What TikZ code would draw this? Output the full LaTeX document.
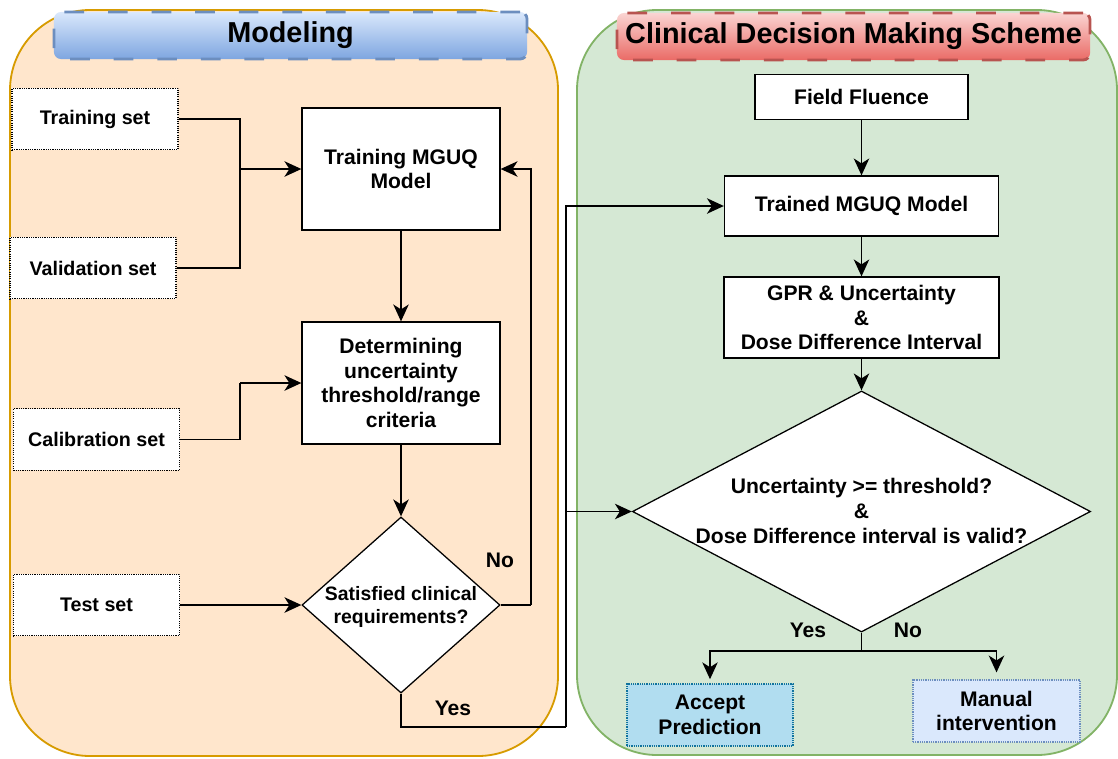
\documentclass[tikz,border=0pt]{standalone}
\usepackage{fontspec}
\setmainfont{Liberation Sans}
\usetikzlibrary{arrows.meta,shapes.geometric}
\definecolor{modelFill}{HTML}{FFE6CC}
\definecolor{modelLine}{HTML}{D79B00}
\definecolor{clinicFill}{HTML}{D5E8D4}
\definecolor{clinicLine}{HTML}{82B366}
\definecolor{blueTop}{HTML}{DAE8FC}
\definecolor{blueBot}{HTML}{7EA6E0}
\definecolor{blueLine}{HTML}{6C8EBF}
\definecolor{redTop}{HTML}{FAD4D2}
\definecolor{redBot}{HTML}{EA6B66}
\definecolor{redLine}{HTML}{B85450}
\definecolor{acceptFill}{HTML}{B1DDF0}
\definecolor{acceptLine}{HTML}{10739E}
\definecolor{manualFill}{HTML}{DAE8FC}

\begin{document}
\begin{tikzpicture}[x=0.025cm,y=-0.025cm,
        txt/.style={font=\bfseries\fontsize{15}{17.5}\selectfont,align=center},
        setbox/.style={draw,fill=white,line width=0.8pt,dash pattern=on 0.8pt off 0.8pt,
            minimum width=4.15cm,minimum height=1.53cm,
            font=\bfseries\fontsize{14}{17}\selectfont},
        procbox/.style={txt,draw,fill=white,line width=0.9pt},
        decision/.style={diamond,draw,fill=white,line width=0.9pt,inner sep=0pt},
        titlebox/.style={rounded corners=5pt,line width=2pt,dash pattern=on 14pt off 17pt,
            minimum width=11.825cm,minimum height=1.175cm,
            font=\bfseries\fontsize{20.5}{24}\selectfont},
        hv/.style={to path={-| (\tikztotarget)}},
        vh/.style={to path={|- (\tikztotarget)}}]
        \useasboundingbox (0,0) rectangle (1118,758);
        % panels
        \filldraw[fill=modelFill,draw=modelLine,line width=1.3pt,rounded corners=2cm]
            (10,10) rectangle (558,756);
        \filldraw[fill=clinicFill,draw=clinicLine,line width=1.3pt,rounded corners=2cm]
            (577,10) rectangle (1117,755);
        \node[titlebox,draw=blueLine,top color=blueTop,bottom color=blueBot]
            (modelTitle) at (290.5,35.5) {Modeling};
        \node[titlebox,draw=redLine,top color=redTop,bottom color=redBot]
            (clinicTitle) at (853.5,36.5) {Clinical Decision Making Scheme};
        % modeling side
        \begin{scope}[every node/.style={setbox}]
            \node (trainSet) at (95,119) {Training set};
            \node (valSet) at (93,268) {Validation set};
            \node (calSet) at (96.5,439.5) {Calibration set};
            \node (testSet) at (96.5,605) {Test set};
        \end{scope}
        \begin{scope}[every node/.style={procbox,minimum width=4.95cm,minimum height=3.05cm}]
            \node (trainModel) at (401,169) {Training MGUQ\\Model};
            \node (determ) at (401,383) {Determining\\uncertainty\\threshold/range\\criteria};
        \end{scope}
        \node[decision,minimum width=4.95cm,minimum height=4.4cm] (sat) at (401,605) {};
        \node[txt,font=\bfseries\fontsize{13.8}{17}\selectfont] (satText) at (401,607) {Satisfied clinical\\requirements?};
        % clinical side
        \node[procbox,minimum width=5.325cm,minimum height=1.125cm] (fluence) at (861.5,97) {Field Fluence};
        \node[procbox,minimum width=6.85cm,minimum height=1.5cm] (trained) at (861.5,206) {Trained MGUQ Model};
        \node[procbox,minimum width=6.875cm,minimum height=2.025cm] (gpr) at (861.5,317.5)
            {GPR \& Uncertainty\\\&\\Dose Difference Interval};
        \node[decision,minimum width=11.45cm,minimum height=6.025cm] (check) at (861.5,511.5) {};
        \node[txt] (checkText) at (861.5,511) {Uncertainty >= threshold?\\\&\\Dose Difference interval is valid?};
        \node[txt,draw=acceptLine,fill=acceptFill,line width=0.8pt,dash pattern=on 0.8pt off 0.8pt,
            minimum width=4.15cm,minimum height=1.55cm] (accept) at (710,715) {Accept\\Prediction};
        \node[txt,draw=blueLine,fill=manualFill,line width=0.8pt,dash pattern=on 0.8pt off 0.8pt,
            minimum width=4.175cm,minimum height=1.55cm] (manual) at (996.5,711) {Manual\\intervention};
        % branch labels
        \begin{scope}[every node/.style={txt}]
            \node (noLbl) at (500,560) {No};
            \node (yesLbl) at (453,708) {Yes};
            \node (yesLbl2) at (808,630) {Yes};
            \node (noLbl2) at (908,630) {No};
        \end{scope}
        \coordinate (merge) at (240,169);
        \coordinate (calTurn) at (240,383);
        \coordinate (noTurn) at (531,605);
        \coordinate (yesBend) at (566,727);
        \coordinate (yesSplit) at (566,511.5);
        \coordinate (split) at (861.5,651);
        \begin{scope}[every edge/.style={draw,line width=1pt,-{Stealth[length=12pt,width=11pt,inset=3.5pt]}}]
            \path
                (trainSet.east) edge [hv,-] (merge)
                (valSet.east) edge [hv,-] (merge)
                (merge) edge (trainModel.west)
                (calSet.east) edge [hv,-] (calTurn)
                (calTurn) edge (determ.west)
                (testSet.east) edge (sat.west)
                (trainModel) edge (determ)
                (determ) edge (sat)
                (sat.east) edge [-] (noTurn)
                (noTurn) edge [vh] (trainModel.east)
                (sat.south) edge [vh,-] (yesBend)
                (yesBend) edge [vh] (trained.west)
                (yesSplit) edge (check.west)
                (fluence) edge (trained)
                (trained) edge (gpr)
                (gpr) edge (check)
                (check.south) edge [-] (split)
                (split) edge [hv,shorten >=3pt] (accept.north)
                (split) edge [hv,shorten >=5pt] (manual.north);
        \end{scope}
    \end{tikzpicture}
\end{document}
